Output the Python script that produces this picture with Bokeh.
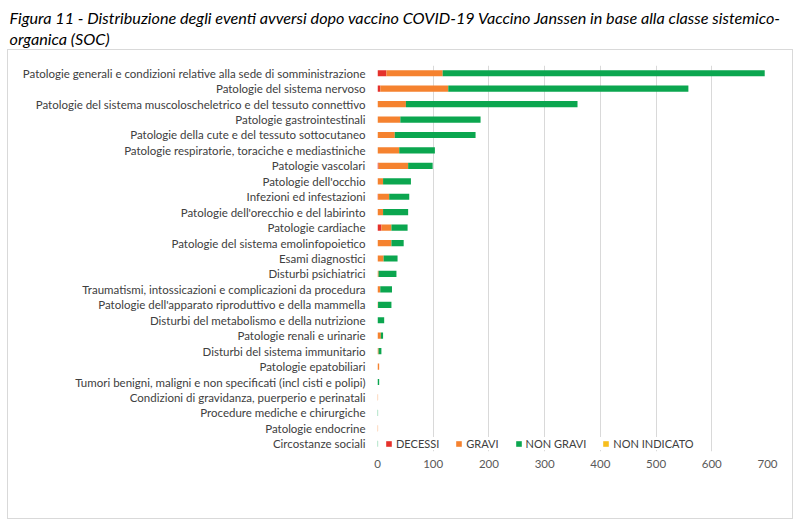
from bokeh.plotting import figure
from bokeh.models import Range1d, FactorRange, FixedTicker, Legend, LegendItem, Title
from bokeh.embed import file_html
from bokeh.resources import INLINE

categories = [
    "Patologie generali e condizioni relative alla sede di somministrazione",
    "Patologie del sistema nervoso",
    "Patologie del sistema muscoloscheletrico e del tessuto connettivo",
    "Patologie gastrointestinali",
    "Patologie della cute e del tessuto sottocutaneo",
    "Patologie respiratorie, toraciche e mediastiniche",
    "Patologie vascolari",
    "Patologie dell'occhio",
    "Infezioni ed infestazioni",
    "Patologie dell'orecchio e del labirinto",
    "Patologie cardiache",
    "Patologie del sistema emolinfopoietico",
    "Esami diagnostici",
    "Disturbi psichiatrici",
    "Traumatismi, intossicazioni e complicazioni da procedura",
    "Patologie dell'apparato riproduttivo e della mammella",
    "Disturbi del metabolismo e della nutrizione",
    "Patologie renali e urinarie",
    "Disturbi del sistema immunitario",
    "Patologie epatobiliari",
    "Tumori benigni, maligni e non specificati (incl cisti e polipi)",
    "Condizioni di gravidanza, puerperio e perinatali",
    "Procedure mediche e chirurgiche",
    "Patologie endocrine",
    "Circostanze sociali",
]
decessi = [16, 5, 0, 0, 0, 0, 2, 0, 1, 0, 7, 0, 0, 0, 0, 0, 0, 0, 0, 0, 0, 0, 0, 0, 0]
gravi = [101, 122, 51, 41, 31, 39, 53, 10, 20, 10, 18, 25, 11, 2, 5, 1, 0, 6, 2, 3, 0, 1, 0, 1, 0]
non_gravi = [578, 431, 308, 144, 145, 64, 44, 50, 36, 45, 29, 22, 25, 32, 21, 24, 12, 4, 5, 0, 3, 0, 1, 0, 1]
non_indicato = [0] * 25
series_names = ["DECESSI", "GRAVI", "NON GRAVI", "NON INDICATO"]
x_ticks = [0, 100, 200, 300, 400, 500, 600, 700]

title_line1 = "Figura 11 - Distribuzione degli eventi avversi dopo vaccino COVID-19 Vaccino Janssen in base alla classe sistemico-"
title_line2 = "organica (SOC)"

colors = ["#E5312B", "#F5822F", "#0BA64F", "#F7BE1E"]
FONT = "Lato"
GRID = "#D9D9D9"

data = dict(cat=categories, DECESSI=decessi, GRAVI=gravi,
            NON_GRAVI=non_gravi, NON_INDICATO=non_indicato)
keys = ["DECESSI", "GRAVI", "NON_GRAVI", "NON_INDICATO"]

p = figure(width=800, height=525, output_backend="svg", toolbar_location=None,
           y_range=FactorRange(*categories[::-1], range_padding=0),
           x_range=Range1d(0, 700))
p.frame_width = 390
p.frame_height = 386
p.min_border_left = 377
p.min_border_right = 33
p.min_border_top = 65
p.min_border_bottom = 74
p.outline_line_color = None
p.border_fill_color = None
p.background_fill_color = "white"
p.title.visible = False

# light grey chart box (page background behind the transparent canvas border)
g = "linear-gradient(%s,%s)" % (GRID, GRID)
p.styles = {"background": ", ".join([
    g + " 7px 49px / 786px 1px no-repeat",
    g + " 7px 518px / 786px 1px no-repeat",
    g + " 7px 49px / 1px 470px no-repeat",
    g + " 792px 49px / 1px 470px no-repeat",
]) + ", white"}

renderers = p.hbar_stack(keys, y="cat", height=0.4, color=colors, source=data,
                         line_color=None)

p.ygrid.grid_line_color = None
p.xgrid.grid_line_color = GRID
p.xgrid.grid_line_width = 1
p.xaxis.ticker = FixedTicker(ticks=x_ticks)
p.xaxis.axis_line_color = None
p.xaxis.major_tick_line_color = None
p.xaxis.minor_tick_line_color = None
p.xaxis.major_tick_out = 0
p.xaxis.minor_tick_out = 0
p.xaxis.major_label_text_font = FONT
p.xaxis.major_label_text_font_size = "11.5px"
p.xaxis.major_label_text_color = "#595959"
p.xaxis.major_label_standoff = 8

p.yaxis.axis_line_color = None
p.yaxis.major_tick_line_color = None
p.yaxis.minor_tick_line_color = None
p.yaxis.major_tick_out = 0
p.yaxis.minor_tick_out = 0
p.yaxis.major_label_text_font = FONT
p.yaxis.major_label_text_font_size = "11.5px"
p.yaxis.major_label_text_color = "#404040"
p.yaxis.major_label_standoff = 12

# legend: kept inside the plot frame (bottom, empty area) so that it is drawn
items = [LegendItem(label=n, renderers=[r]) for n, r in zip(series_names, renderers)]
legend = Legend(items=items, orientation="horizontal", location=(8, 1),
                glyph_width=7, glyph_height=7, label_standoff=4, spacing=16,
                label_text_font=FONT, label_text_font_size="11px",
                label_text_color="#404040", border_line_color=None,
                background_fill_color="white", background_fill_alpha=1.0,
                padding=2, margin=0)
p.add_layout(legend, "center")

# titles, from the frame outwards: spacer, second line, first line
p.add_layout(Title(text=" ", text_font_size="2px", standoff=14), "above")
p.add_layout(Title(text=title_line2, align="left", offset=-368, standoff=0,
                   text_font=FONT, text_font_style="italic", text_font_size="16.2px",
                   text_color="black"), "above")
p.add_layout(Title(text=title_line1, align="left", offset=-368, standoff=0,
                   text_font=FONT, text_font_style="italic", text_font_size="16.2px",
                   text_color="black"), "above")

open("out.html", "w").write(file_html(p, INLINE))
